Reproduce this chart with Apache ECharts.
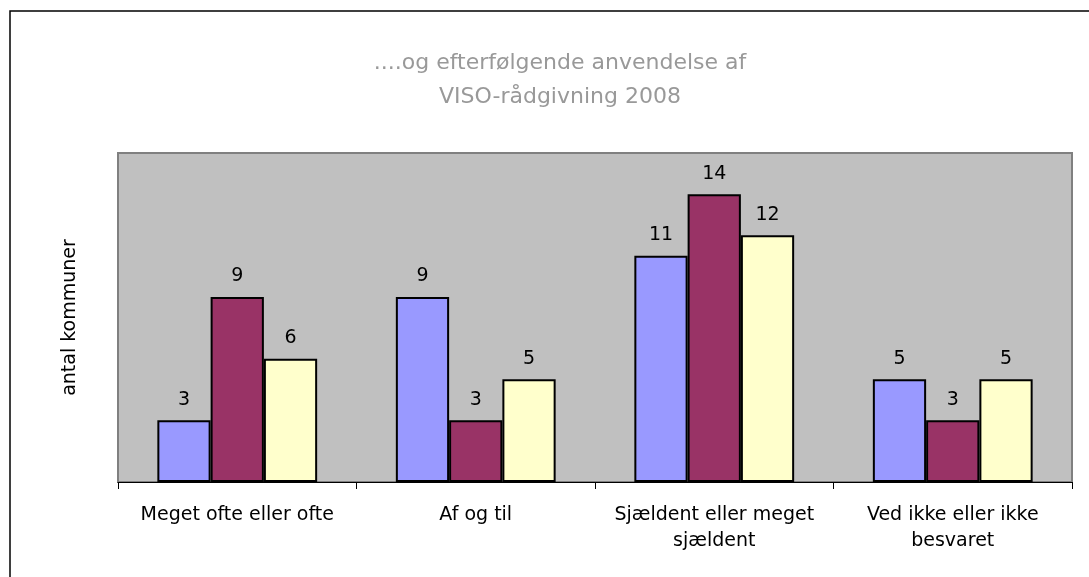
<!DOCTYPE html>
<html>
<head>
<meta charset="utf-8">
<script src="https://cdn.jsdelivr.net/npm/echarts@6/dist/echarts.min.js"></script>
<style>
  html, body { margin: 0; padding: 0; background: #fff; }
  #chart { width: 1089px; height: 577px; }
</style>
</head>
<body>
<div id="chart"></div>
<script>
var categories = ['Meget ofte eller ofte', 'Af og til', 'Sjældent eller meget\nsjældent', 'Ved ikke eller ikke\nbesvaret'];
var serie1 = [3, 9, 11, 5];
var serie2 = [9, 3, 14, 3];
var serie3 = [6, 5, 12, 5];
var seriesNames = ['Serie1', 'Serie2', 'Serie3'];
var seriesColors = ['#9999FF', '#993366', '#FFFFCC'];

var font = '"DejaVu Sans", Verdana, sans-serif';

function makeSeries(name, data, color) {
    return {
        name: name,
        type: 'bar',
        data: data,
        barGap: '0%',
        barCategoryGap: '33%',
        itemStyle: { color: color, borderColor: '#000', borderWidth: 2 },
        label: {
            show: true,
            position: 'top',
            distance: 11,
            color: '#000',
            fontSize: 19,
            fontFamily: font
        }
    };
}

var chart = echarts.init(document.getElementById('chart'));
chart.setOption({
    animation: false,
    backgroundColor: '#fff',
    title: {
        text: '....og efterfølgende anvendelse af\nVISO-rådgivning 2008',
        left: 555,
        textAlign: 'center',
        top: 41,
        textStyle: {
            color: '#999',
            fontSize: 22,
            fontWeight: 'normal',
            fontFamily: font,
            lineHeight: 34
        }
    },
    graphic: [{
        type: 'rect',
        shape: { x: 10, y: 11, width: 1200, height: 700 },
        style: { fill: 'none', stroke: '#000', lineWidth: 1.5 },
        silent: true
    }],
    grid: {
        left: 118, right: 17, top: 153, bottom: 95,
        show: true,
        backgroundColor: '#c0c0c0',
        borderColor: '#808080',
        borderWidth: 2
    },
    xAxis: {
        type: 'category',
        data: categories,
        axisLine: { lineStyle: { color: '#000', width: 1 } },
        axisTick: { show: true, length: 7, lineStyle: { color: '#000' } },
        axisLabel: {
            color: '#000',
            fontSize: 19,
            fontFamily: font,
            margin: 20,
            lineHeight: 26,
            interval: 0
        }
    },
    yAxis: {
        type: 'value',
        min: 0,
        max: 16,
        name: 'antal kommuner',
        nameLocation: 'middle',
        nameRotate: 90,
        nameGap: 38,
        nameTextStyle: { color: '#000', fontSize: 19, fontFamily: font },
        axisLabel: { show: false },
        axisTick: { show: false },
        axisLine: { show: false },
        splitLine: { show: false }
    },
    series: [
        makeSeries(seriesNames[0], serie1, seriesColors[0]),
        makeSeries(seriesNames[1], serie2, seriesColors[1]),
        makeSeries(seriesNames[2], serie3, seriesColors[2])
    ]
});
</script>
</body>
</html>
